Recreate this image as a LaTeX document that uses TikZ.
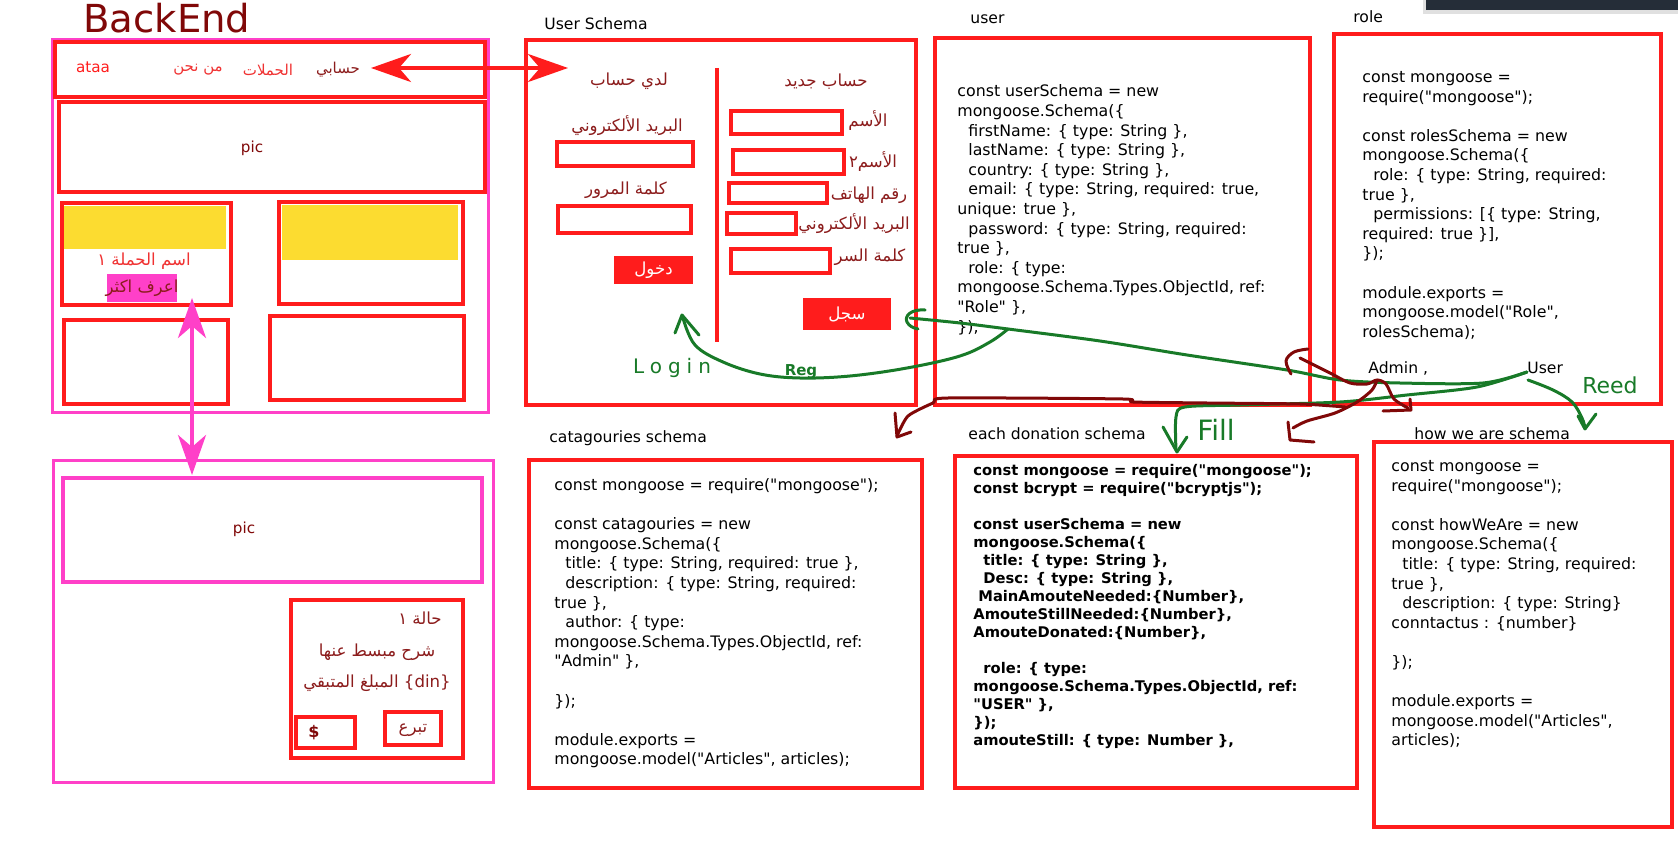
\documentclass[tikz,border=0pt]{standalone}
\usepackage{fontspec}
\setmainfont{DejaVu Sans}[Ligatures=TeXOff]
\newfontfamily\arfont[Script=Arabic]{DejaVu Sans}
\newfontfamily\handfont[LetterSpace=30]{DejaVu Sans}
\TeXXeTstate=1
\usetikzlibrary{arrows.meta,fit}
\definecolor{boxred}{RGB}{255,28,28}
\definecolor{mag}{RGB}{255,64,200}
\definecolor{yel}{RGB}{252,220,48}
\definecolor{drk}{RGB}{128,8,8}
\definecolor{txtred}{RGB}{140,28,28}
\definecolor{navred}{RGB}{240,50,50}
\definecolor{grn}{RGB}{24,122,40}
\definecolor{navy}{RGB}{37,45,56}
\newcommand\AR[1]{{\arfont\beginR #1\endR}}
\tikzset{
  redbox/.style={draw=boxred, line width=2pt, inner sep=0pt},
  inbox/.style={draw=boxred, line width=1.6pt, inner sep=0pt},
  magbox/.style={draw=mag, line width=1.5pt, inner sep=0pt},
  btn/.style={fill=boxred, inner sep=0pt},
  code/.style={anchor=north west, align=left, inner sep=0pt, text=black, font=\fontsize{7.9pt}{9.8pt}\selectfont},
  bcode/.style={anchor=north west, align=left, inner sep=0pt, text=black, font=\fontsize{7.35pt}{9pt}\selectfont\bfseries},
  lbl/.style={anchor=base west, inner sep=0pt, text=black, font=\fontsize{7.8pt}{9pt}\selectfont},
  artxt/.style={inner sep=0pt, text=txtred, font=\fontsize{8.3pt}{10pt}\selectfont},
  hand/.style={draw=grn, line width=1.5pt, line cap=round, line join=round},
  dark/.style={draw=drk, line width=1.5pt, line cap=round, line join=round},
  handtxt/.style={inner sep=0pt, text=grn},
  bigarrow/.style={line width=2pt, {Stealth[length=20pt,width=14pt,inset=6pt]}-{Stealth[length=20pt,width=14pt,inset=6pt]}},
}
\begin{document}
\begin{tikzpicture}[x=0.5pt,y=-0.5pt]
\useasboundingbox (0,0) rectangle (1678,856);
\fill[white] (0,0) rectangle (1678,856);
% top right bar
\fill[black!12] (1423,0) rectangle (1678,14);
\fill[navy] (1426,0) rectangle (1678,10);

% ---------------- BackEnd mock-up ----------------
\node[anchor=base west, inner sep=0pt, text=drk, font=\fontsize{19.3pt}{22pt}\selectfont] (title) at (83,33) {BackEnd};
\node[magbox, fit={(52.5,40)(488,412)}] (home) {};
\node[redbox, fit={(55,42)(485,97)}] (nav) {};
\node[anchor=base, inner sep=0pt, text=boxred, font=\fontsize{7.6pt}{9pt}\selectfont] (ataa) at (93,73) {ataa};
\node[artxt, text=navred, font=\fontsize{7.5pt}{9pt}\selectfont] (about) at (198,70) {\AR{من نحن}};
\node[artxt, text=navred, font=\fontsize{7.5pt}{9pt}\selectfont] (camps) at (268,70) {\AR{الحملات}};
\node[artxt, font=\fontsize{7.5pt}{9pt}\selectfont] (acct) at (338,70) {\AR{حسابي}};
\node[redbox, fit={(59,102)(485,192)}] (pic1) {};
\node[anchor=base, inner sep=0pt, text=drk, font=\fontsize{7.6pt}{9pt}\selectfont] (pic1t) at (252,153) {pic};
\node[redbox, fit={(62,203)(231,305)}] (card1) {};
\fill[yel] (64,206) rectangle (226,249);
\node[artxt, text=navred] (c1name) at (144,261) {\AR{اسم الحملة ١}};
\node[fill=mag, inner sep=0pt, fit={(107,274)(177,302)}] (more) {};
\node[artxt] (moret) at (142,288) {\AR{اعرف اكثر}};
\node[redbox, fit={(279,202)(463,304)}] (card2) {};
\fill[yel] (282,205) rectangle (458,260);
\node[redbox, fit={(64,320)(228,404)}] (card3) {};
\node[redbox, fit={(270,316)(464,400)}] (card4) {};

% ---------------- campaign page ----------------
\node[magbox, fit={(53,460)(493,782)}] (camp) {};
\node[magbox, line width=2pt, fit={(63,478)(482,582)}] (pic2) {};
\node[anchor=base, inner sep=0pt, text=drk, font=\fontsize{7.6pt}{9pt}\selectfont] (pic2t) at (244,533) {pic};
\node[redbox, fit={(291,600)(463,758)}] (ccard) {};
\node[artxt] (state) at (420,618) {\AR{حالة ١}};
\node[artxt] (desc) at (377,652) {\AR{شرح مبسط عنها}};
\node[artxt] (rest) at (377,683) {\AR{\beginL\{din\}\endL{} المبلغ المتبقي}};
\node[redbox, fit={(296,717)(355,748)}] (amount) {};
\node[inner sep=0pt, text=drk, font=\fontsize{8pt}{10pt}\selectfont\bfseries] (dollar) at (314,733) {\$};
\node[redbox, fit={(385,712)(441,745)}] (donate) {};
\node[artxt] (donatet) at (413,730) {\AR{تبرع}};

% arrows of the mock-up
\coordinate (navtip) at (371,68);
\coordinate (ustip) at (568,68);
\draw[boxred, bigarrow] (navtip) -- (ustip);
\coordinate (moretip) at (192,298);
\coordinate (camptip) at (192,475);
\draw[mag, bigarrow] (moretip) -- (camptip);

% ---------------- User Schema ----------------
\node[lbl] (uslbl) at (544,30) {User Schema};
\node[redbox, fit={(526,40)(916,405)}] (us) {};
\draw[boxred, line width=2pt] (717,68) -- (717,342);
\node[artxt] (have) at (629,81) {\AR{لدي حساب}};
\node[artxt] (newacc) at (826,82) {\AR{حساب جديد}};
\node[artxt] (lmail) at (627,126) {\AR{البريد الألكتروني}};
\node[inbox, fit={(557,142)(693,166)}] (inmail) {};
\node[artxt] (lpass) at (626,190) {\AR{كلمة المرور}};
\node[inbox, fit={(558,206)(691,233)}] (inpass) {};
\node[btn, fit={(614,256)(693,284)}] (loginbtn) {};
\node[artxt, text=white] (logint) at (loginbtn) {\AR{دخول}};
\node[inbox, fit={(731,111)(842,134)}] (rin1) {};
\node[artxt] (rl1) at (868,121) {\AR{الأسم}};
\node[inbox, fit={(733,150)(844,174)}] (rin2) {};
\node[artxt] (rl2) at (873,162) {\AR{الأسم٢}};
\node[inbox, fit={(729,183)(827,203)}] (rin3) {};
\node[artxt] (rl3) at (869,195) {\AR{رقم الهاتف}};
\node[inbox, fit={(727,213)(796,234)}] (rin4) {};
\node[artxt] (rl4) at (854,224) {\AR{البريد الألكتروني}};
\node[inbox, fit={(731,249)(830,273)}] (rin5) {};
\node[artxt] (rl5) at (870,257) {\AR{كلمة السر}};
\node[btn, fit={(803,298)(891,330)}] (regbtn) {};
\node[artxt, text=white] (regt) at (regbtn) {\AR{سجل}};

% ---------------- user ----------------
\node[lbl] (ulbl) at (970,24) {user};
\node[redbox, fit={(935,38)(1310,405)}] (user) {};
\node[code] (ucode) at (957,84.5) {const userSchema = new\\
mongoose.Schema(\{\\
\hspace*{5.5pt}firstName: \{ type: String \},\\
\hspace*{5.5pt}lastName: \{ type: String \},\\
\hspace*{5.5pt}country: \{ type: String \},\\
\hspace*{5.5pt}email: \{ type: String, required: true,\\
unique: true \},\\
\hspace*{5.5pt}password: \{ type: String, required:\\
true \},\\
\hspace*{5.5pt}role: \{ type:\\
mongoose.Schema.Types.ObjectId, ref:\\
"Role" \},\\
\});};

% ---------------- role ----------------
\node[lbl] (rlbl) at (1353,23) {role};
\node[redbox, fit={(1334,34)(1661,404)}] (role) {};
\node[code] (rcode) at (1362,71) {const mongoose =\\
require("mongoose");\\[9.8pt]
const rolesSchema = new\\
mongoose.Schema(\{\\
\hspace*{5.5pt}role: \{ type: String, required:\\
true \},\\
\hspace*{5.5pt}permissions: [\{ type: String,\\
required: true \}],\\
\});\\[9.8pt]
module.exports =\\
mongoose.model("Role",\\
rolesSchema);};
\node[lbl] (admin) at (1368,373) {Admin ,};
\node[lbl] (usr) at (1527,373) {User};

% ---------------- catagouries ----------------
\node[lbl] (clbl) at (549,442) {catagouries schema};
\node[redbox, fit={(529,460)(922,788)}] (cat) {};
\node[code] (ccode) at (554,478) {const mongoose = require("mongoose");\\[9.8pt]
const catagouries = new\\
mongoose.Schema(\{\\
\hspace*{5.5pt}title: \{ type: String, required: true \},\\
\hspace*{5.5pt}description: \{ type: String, required:\\
true \},\\
\hspace*{5.5pt}author: \{ type:\\
mongoose.Schema.Types.ObjectId, ref:\\
"Admin" \},\\[9.8pt]
\});\\[9.8pt]
module.exports =\\
mongoose.model("Articles", articles);};

% ---------------- each donation ----------------
\node[lbl] (dlbl) at (968,439) {each donation schema};
\node[redbox, fit={(955,456)(1357,788)}] (don) {};
\node[bcode] (dcode) at (973,463.8) {const mongoose = require("mongoose");\\
const bcrypt = require("bcryptjs");\\[9pt]
const userSchema = new\\
mongoose.Schema(\{\\
\hspace*{5pt}title: \{ type: String \},\\
\hspace*{5pt}Desc: \{ type: String \},\\
\hspace*{2.5pt}MainAmouteNeeded:\{Number\},\\
AmouteStillNeeded:\{Number\},\\
AmouteDonated:\{Number\},\\[9pt]
\hspace*{5pt}role: \{ type:\\
mongoose.Schema.Types.ObjectId, ref:\\
"USER" \},\\
\});\\
amouteStill: \{ type: Number \},};

% ---------------- how we are ----------------
\node[lbl] (hlbl) at (1414,439) {how we are schema};
\node[redbox, fit={(1374,442)(1672,827)}] (how) {};
\node[code] (hcode) at (1391,460) {const mongoose =\\
require("mongoose");\\[9.8pt]
const howWeAre = new\\
mongoose.Schema(\{\\
\hspace*{5.5pt}title: \{ type: String, required:\\
true \},\\
\hspace*{5.5pt}description: \{ type: String\}\\
conntactus : \{number\}\\[9.8pt]
\});\\[9.8pt]
module.exports =\\
mongoose.model("Articles",\\
articles);};

% ---------------- hand drawn green links ----------------
\coordinate (gUser) at (1527,372);
\coordinate (gJoin) at (1008,329);
\coordinate (gReg) at (910,318);
\draw[hand] plot[smooth, tension=0.5] coordinates {(gReg) (960,323) (gJoin) (1100,341) (1187,355) (1287,370) (1340,380) (1400,383) (1483,383) (gUser)};
\draw[hand] (925,310) .. controls (911,309) and (904,316) .. (907,322) .. controls (909,326) and (913,328) .. (918,329);
\draw[hand] plot[smooth, tension=0.6] coordinates {(gJoin) (990,342) (960,356) (907,368) (850,376) (800,378) (760,374) (723,362) (695,345) (683,318)};
\draw[hand] (675,333) -- (682,315) -- (699,335);
\draw[hand] plot[smooth, tension=0.5] coordinates {(gUser) (1477,387) (1407,395) (1340,402) (1240,405) (1185,407) (1176,417) (1176,450)};
\draw[hand] (1163,427) -- (1177,452) -- (1187,437);
\draw[hand] plot[smooth, tension=0.6] coordinates {(1528,380) (1553,390) (1572,402) (1582,418) (1585,428)};
\draw[hand] (1578,416) -- (1585,429) -- (1596,414);
\node[handtxt, font=\handfont\fontsize{10pt}{12pt}\selectfont] (tLogin) at (672,368) {Login};
\node[handtxt, font=\fontsize{7.5pt}{9pt}\selectfont\bfseries] (tReg) at (801,372) {Reg};
\node[handtxt, font=\fontsize{14pt}{16pt}\selectfont] (tFill) at (1216,430) {Fill};
\node[handtxt, font=\fontsize{11pt}{13pt}\selectfont] (tReed) at (1610,385) {Reed};

% ---------------- hand drawn dark red links ----------------
\coordinate (knot) at (1377,380);
\draw[dark] plot[smooth, tension=0.6] coordinates {(1291,374) (1286,361) (1294,352) (1308,349)};
\draw[dark] plot[smooth, tension=0.5] coordinates {(1300,358) (1330,373) (1350,383) (1367,384) (knot) (1386,384) (1394,399) (1408,408)};
\draw[dark] (1383,411) -- (1411,410) -- (1410,399);
\draw[dark] plot[smooth, tension=0.5] coordinates {(knot) (1372,390) (1357,402) (1335,413) (1307,421) (1293,428)};
\draw[dark] (1288,422) -- (1290,440) -- (1314,442);
\draw[dark] plot[smooth, tension=0.4] coordinates {(1345,407) (1300,404) (1207,403) (1133,402) (1123,399) (948,398) (933,403) (908,416) (897,436)};
\draw[dark] (895,413) -- (897,437) -- (911,432);
\end{tikzpicture}
\end{document}
